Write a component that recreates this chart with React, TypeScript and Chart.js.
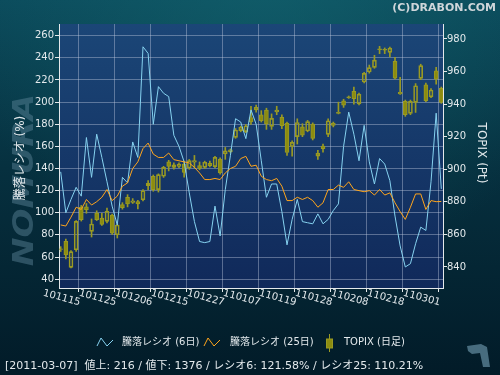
import React, { useEffect, useRef } from "react";
import { Chart, registerables } from "chart.js";

Chart.register(...registerables);

// ---- data ----
const dates: string[] = [
  "101115","101116","101117","101118","101119","101122","101124","101125","101126","101129","101130",
  "101201","101202","101203","101206","101207","101208","101209","101210","101213","101214","101215",
  "101216","101217","101220","101221","101222","101224","101227","101228","101229","101230",
  "110104","110105","110106","110107","110111","110112","110113","110114","110117","110118","110119",
  "110120","110121","110124","110125","110126","110127","110128","110131",
  "110201","110202","110203","110204","110207","110208","110209","110210","110214","110215","110216","110217","110218",
  "110221","110222","110223","110224","110225","110228","110301","110302","110303","110304","110307",
];

const ratio6: number[] = [
  137, 100, 112, 123, 115, 168, 132, 171, 150, 128,
  106, 89, 132, 127, 164, 150, 250, 244, 180, 214,
  208, 205, 170, 160, 146, 118, 92, 74, 73, 74,
  106, 79, 121, 152, 185, 182, 167, 193, 180, 147,
  114, 126, 126, 101, 71, 94, 112, 92, 91, 90,
  99, 90, 94, 102, 108, 160, 191, 171, 147, 179,
  146, 126, 149, 144, 129, 97, 70, 51, 54, 72,
  87, 84, 128, 190, 121.58,
];

const ratio25: number[] = [
  89, 88, 96, 105, 103, 112, 107, 110, 114, 121,
  111, 115, 124, 127, 140, 146, 158, 163, 153, 150,
  150, 154, 148, 147, 146, 145, 141, 136, 130, 130,
  131, 130, 136, 140, 142, 149, 151, 142, 143, 133,
  130, 129, 131, 124, 111, 111, 114, 112, 114, 111,
  105, 109, 121, 121, 125, 123, 128, 121, 120, 119,
  120, 116, 121, 116, 118, 109, 101, 94, 105, 117,
  117, 103, 111, 110, 110.21,
];

const topixOpen: number[] = [
  850.8, 855.8, 839.8, 850.6, 876.6, 877, 861.9, 873.1, 870, 868,
  871.9, 859.8, 878.3, 882.8, 879.7, 880.1, 881.3, 889.9, 895.7, 887.5,
  895.7, 904.6, 901.2, 901.8, 903.2, 900.8, 904.3, 902.2, 901.2, 903.6,
  901.6, 906.3, 909.5, 912, 919.6, 923.7, 923.1, 931.8, 936.5, 933.5,
  936.4, 926.3, 935.2, 931.9, 928.3, 914, 920, 926, 923.5, 927.7,
  908, 914.2, 921.4, 928.3, 934.3, 942, 944, 947.9, 940.2, 953.6,
  959.7, 962.6, 973.5, 973.2, 971.8, 966.3, 947.3, 941.7, 934.3, 941.1,
  955.8, 951.9, 944.5, 960.5, 949.7,
];
const topixHigh: number[] = [
  852.5, 857.2, 850, 868.5, 877.8, 879, 869.5, 874.5, 873, 876.2,
  872.5, 866.5, 879.5, 884.4, 882, 881, 887.5, 893, 896.5, 897.2,
  901.8, 905.5, 904, 904, 905.1, 906, 908.5, 904.5, 905, 905,
  908, 907, 913.4, 912.5, 925, 926.5, 927.5, 938.7, 939.4, 936,
  937.5, 934, 938.7, 933.5, 929, 917.5, 931, 928, 930, 928.5,
  911.6, 915.5, 931, 929, 941.2, 943, 945, 950.5, 946.8, 959.5,
  964, 970, 975.5, 974.5, 975, 968.7, 956.5, 942.5, 942.5, 952.6,
  964.5, 953, 949.5, 962.6, 950.5,
];
const topixLow: number[] = [
  849.5, 844.9, 839.5, 849.5, 868.2, 873, 858.4, 868.5, 865.5, 867,
  860, 857.8, 875.5, 876.9, 879, 875.6, 880.5, 887.5, 886.5, 886,
  895, 899, 900, 901, 895.2, 900, 900.8, 899.7, 900.5, 901.5,
  901, 897, 906.1, 910, 919, 923, 922.5, 927.5, 935, 929,
  924.5, 924.5, 933.5, 925, 908.5, 908, 915.5, 920, 923, 918,
  906, 910.5, 920, 926, 934, 938, 943.5, 940, 939.5, 953,
  959, 962, 971, 971, 969, 955.5, 946, 932.5, 933.5, 934.9,
  955, 941.5, 944, 952.3, 940.5,
];
const topixClose: number[] = [
  851.2, 847.4, 849.4, 868, 869, 875.2, 866.4, 869, 866.2, 874.2,
  860.7, 865.8, 876.5, 878.7, 880.7, 878.7, 886.8, 891.4, 887.5, 896.7,
  901.2, 901.8, 902.8, 903.2, 898.1, 905.3, 905.3, 900.6, 904.3, 902.2,
  907.3, 897.7, 911.4, 910.8, 924.1, 925.8, 926.7, 929, 938, 929.8,
  927.8, 931.3, 936.4, 926.7, 910.3, 916.5, 928.7, 921, 929.3, 919,
  909.8, 912.6, 929.8, 927, 935, 939.4, 944.5, 943.3, 946.1, 958.9,
  962.4, 967, 974, 973.6, 974.4, 956, 946.3, 933.5, 941.7, 951.3,
  963.6, 942.1, 948.7, 955.4, 941.1,
];

const xTickIndex: number[] = [0, 7, 14, 21, 28, 35, 42, 49, 56, 63, 70];
const leftTicks: number[] = [40, 60, 80, 100, 120, 140, 160, 180, 200, 220, 240, 260];
const rightTicks: number[] = [840, 860, 880, 900, 920, 940, 960, 980];

const legendLabels: string[] = ["騰落レシオ (6日)", "騰落レシオ (25日)", "TOPIX (日足)"];
const footerText = "[2011-03-07]  値上: 216 / 値下: 1376 / レシオ6: 121.58% / レシオ25: 110.21%";
const leftTitle = "騰落レシオ (%)";
const rightTitle = "TOPIX (Pt)";
const copyright = "(C)DRABON.COM";
const watermark = "NOMURA";

// ---- styles ----
const FONT = '"DejaVu Sans", "Noto Sans CJK JP", sans-serif';
const TEXT = "#e3e9ec";
const GRID = "rgba(190,200,222,0.42)";
const AXIS = "#e4e8ea";
const BLUE = "#86d2f0";
const ORANGE = "#ffa51c";
const OLIVE_FILL = "#8c8c10";
const OLIVE_LINE = "#9a9a22";

const bgPlugin = {
  id: "bgPlugin",
  beforeDraw(chart: any) {
    const { ctx, width, height, chartArea } = chart;
    ctx.save();
    const g = ctx.createLinearGradient(0, 0, 0, height);
    g.addColorStop(0, "#0b4a5b");
    g.addColorStop(0.45, "#06303f");
    g.addColorStop(1, "#021b28");
    ctx.fillStyle = g;
    ctx.fillRect(0, 0, width, height);
    const r = ctx.createRadialGradient(270, -30, 10, 270, -30, 320);
    r.addColorStop(0, "rgba(20,105,115,0.55)");
    r.addColorStop(1, "rgba(20,105,115,0)");
    ctx.fillStyle = r;
    ctx.fillRect(0, 0, width, height);

    // watermark
    ctx.save();
    ctx.translate(26, 180);
    ctx.rotate(-Math.PI / 2);
    ctx.scale(1.14, 0.95);
    ctx.font = "italic bold 30px " + FONT;
    ctx.textAlign = "center";
    ctx.textBaseline = "middle";
    ctx.fillStyle = "rgba(95,135,155,0.45)";
    ctx.fillText(watermark, 0, 0);
    ctx.restore();

    // plot background
    const pg = ctx.createLinearGradient(0, chartArea.top, 0, chartArea.bottom);
    pg.addColorStop(0, "#1b4677");
    pg.addColorStop(1, "#10295a");
    ctx.fillStyle = pg;
    ctx.fillRect(chartArea.left, chartArea.top, chartArea.right - chartArea.left, chartArea.bottom - chartArea.top);

    // copyright
    ctx.font = "bold 11px " + FONT;
    ctx.fillStyle = "#cfd6da";
    ctx.textAlign = "right";
    ctx.textBaseline = "middle";
    ctx.fillText(copyright, 496, 8);
    ctx.restore();
  },
  afterDraw(chart: any) {
    const { ctx, chartArea } = chart;
    const xs = chart.scales.x;
    ctx.save();
    ctx.fillStyle = TEXT;

    // axis titles
    ctx.font = "12px " + FONT;
    ctx.textAlign = "center";
    ctx.textBaseline = "middle";
    ctx.save();
    ctx.translate(21, (chartArea.top + chartArea.bottom) / 2 + 2);
    ctx.rotate(-Math.PI / 2);
    ctx.fillText(leftTitle, 0, 0);
    ctx.restore();
    ctx.save();
    ctx.translate(481, (chartArea.top + chartArea.bottom) / 2 - 3);
    ctx.rotate(Math.PI / 2);
    ctx.fillText(rightTitle, 0, 0);
    ctx.restore();

    // x tick labels (rotated clockwise)
    ctx.font = "10px " + FONT;
    xTickIndex.forEach((idx) => {
      const x = xs.getPixelForValue(idx);
      ctx.save();
      ctx.translate(x + 1, 298);
      ctx.rotate(0.26);
      ctx.fillText(dates[idx], 0, 0);
      ctx.restore();
    });

    // legend
    const ly = 342;
    ctx.lineWidth = 1;
    const zig = (x0: number, color: string) => {
      ctx.strokeStyle = color;
      ctx.beginPath();
      ctx.moveTo(x0, 346);
      ctx.lineTo(x0 + 4, 338);
      ctx.lineTo(x0 + 10, 346);
      ctx.lineTo(x0 + 16, 340);
      ctx.stroke();
    };
    zig(97, BLUE);
    zig(204, ORANGE);
    ctx.strokeStyle = OLIVE_LINE;
    ctx.beginPath();
    ctx.moveTo(329.5, 334);
    ctx.lineTo(329.5, 352);
    ctx.stroke();
    ctx.fillStyle = OLIVE_FILL;
    ctx.fillRect(326.5, 339, 6, 9);
    ctx.strokeRect(326.5, 339, 6, 9);

    ctx.fillStyle = TEXT;
    ctx.font = "10px " + FONT;
    ctx.textAlign = "left";
    ctx.textBaseline = "middle";
    ctx.fillText(legendLabels[0], 122, ly);
    ctx.fillText(legendLabels[1], 230, ly);
    ctx.fillText(legendLabels[2], 344, ly);

    // footer
    ctx.font = "11px " + FONT;
    ctx.fillText(footerText, 5, 366);

    // small logo
    ctx.fillStyle = "rgba(95,135,155,0.75)";
    ctx.beginPath();
    ctx.moveTo(467, 346);
    ctx.lineTo(481, 344);
    ctx.lineTo(487, 347);
    ctx.lineTo(490, 367);
    ctx.lineTo(483, 367);
    ctx.lineTo(480, 353);
    ctx.lineTo(472, 354);
    ctx.lineTo(468, 351);
    ctx.closePath();
    ctx.fill();
    ctx.restore();
  },
};

export default function App() {
  const ref = useRef<HTMLCanvasElement>(null);
  useEffect(() => {
    const canvas = ref.current;
    if (!canvas) return;
    const idx = dates.map((_, i) => i);
    const isUp = idx.map((i) => topixClose[i] >= topixOpen[i]);
    const chart = new Chart(canvas, {
      type: "line",
      data: {
        datasets: [
          {
            type: "line",
            label: legendLabels[0],
            data: idx.map((i) => ({ x: i, y: ratio6[i] })),
            borderColor: BLUE,
            borderWidth: 1,
            pointRadius: 0,
            tension: 0,
            yAxisID: "y",
            order: 1,
          } as any,
          {
            type: "line",
            label: legendLabels[1],
            data: idx.map((i) => ({ x: i, y: ratio25[i] })),
            borderColor: ORANGE,
            borderWidth: 1,
            pointRadius: 0,
            tension: 0,
            yAxisID: "y",
            order: 0,
          } as any,
          {
            type: "bar",
            label: "wickLow",
            data: idx.map((i) => ({ x: i, y: [topixLow[i], Math.min(topixOpen[i], topixClose[i])] })),
            backgroundColor: OLIVE_LINE,
            borderWidth: 0,
            barThickness: 1,
            grouped: false,
            yAxisID: "y1",
            order: 4,
          } as any,
          {
            type: "bar",
            label: "wickHigh",
            data: idx.map((i) => ({ x: i, y: [Math.max(topixOpen[i], topixClose[i]), topixHigh[i]] })),
            backgroundColor: OLIVE_LINE,
            borderWidth: 0,
            barThickness: 1,
            grouped: false,
            yAxisID: "y1",
            order: 4,
          } as any,
          {
            type: "bar",
            label: legendLabels[2],
            data: idx.map((i) => ({ x: i, y: [topixOpen[i], topixClose[i]] })),
            backgroundColor: isUp.map((u) => (u ? "rgba(0,0,0,0)" : OLIVE_FILL)),
            borderColor: OLIVE_LINE,
            borderWidth: 1,
            borderSkipped: false,
            barThickness: 4,
            grouped: false,
            yAxisID: "y1",
            order: 3,
          } as any,
        ],
      },
      plugins: [bgPlugin],
      options: {
        responsive: false,
        animation: false,
        layout: { padding: { top: 24, left: 0, right: 0, bottom: 0 } },
        plugins: { legend: { display: false }, tooltip: { enabled: false } },
        scales: {
          x: {
            type: "linear",
            min: -0.33,
            max: 74.33,
            offset: false,
            afterBuildTicks: (s: any) => {
              s.ticks = xTickIndex.map((v) => ({ value: v }));
            },
            afterFit: (s: any) => {
              s.height = 87;
            },
            ticks: { display: false },
            grid: {
              color: (c: any) => (c.tick && c.tick.value === 0 ? "rgba(0,0,0,0)" : GRID),
              tickLength: 4,
              tickColor: AXIS,
              lineWidth: 1,
            },
            border: { color: AXIS, width: 1 },
          },
          y: {
            position: "left",
            min: 32,
            max: 270.6,
            afterBuildTicks: (s: any) => {
              s.ticks = leftTicks.map((v) => ({ value: v }));
            },
            afterFit: (s: any) => {
              s.width = 59;
            },
            ticks: { color: TEXT, font: { size: 10, family: FONT }, padding: 1 },
            grid: { color: GRID, tickLength: 4, tickColor: AXIS, lineWidth: 1 },
            border: { color: AXIS, width: 1 },
          },
          y1: {
            position: "right",
            min: 827.1,
            max: 989.2,
            afterBuildTicks: (s: any) => {
              s.ticks = rightTicks.map((v) => ({ value: v }));
            },
            afterFit: (s: any) => {
              s.width = 57;
            },
            ticks: { color: TEXT, font: { size: 10, family: FONT }, padding: 0 },
            grid: { drawOnChartArea: false, tickLength: 4, tickColor: AXIS },
            border: { color: AXIS, width: 1 },
          },
        },
      } as any,
    });
    return () => chart.destroy();
  }, []);
  return (
    <div style={{ position: "fixed", left: 0, top: 0, width: 500, height: 375 }}>
      <canvas ref={ref} width={500} height={375} style={{ display: "block", width: 500, height: 375 }} />
    </div>
  );
}
